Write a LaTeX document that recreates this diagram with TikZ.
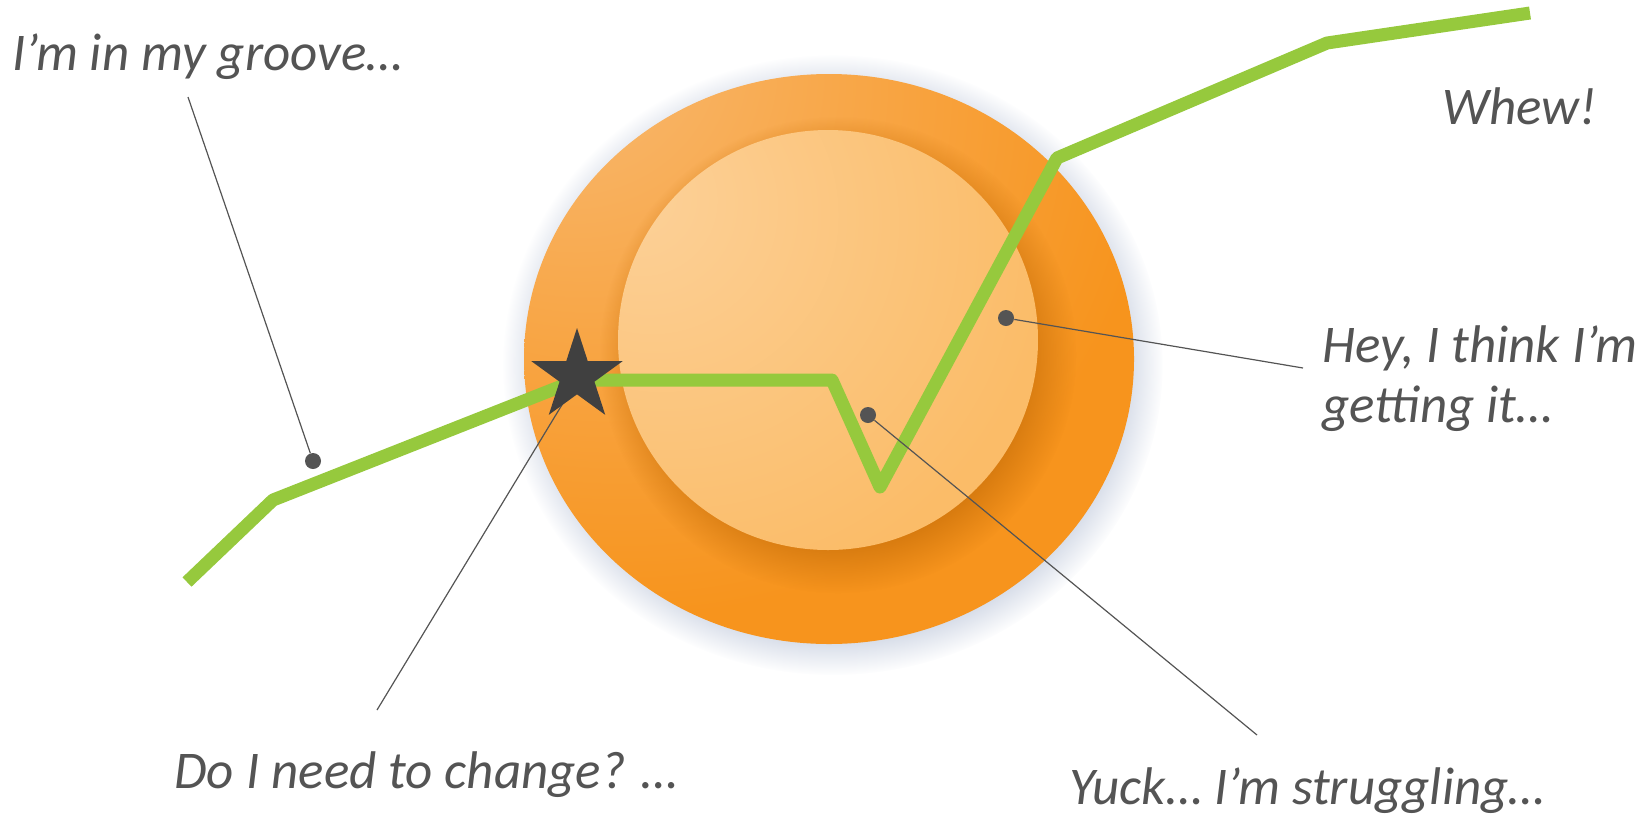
\documentclass[tikz,border=0pt]{standalone}
\usepackage{fontspec}
\setmainfont{Carlito}
\usetikzlibrary{positioning,shapes.geometric,fadings}
\definecolor{ringorange}{HTML}{F7941D}
\definecolor{ringlight}{HTML}{F9BC78}
\definecolor{ringdark}{HTML}{D0750C}
\definecolor{coreorange}{HTML}{FBBC68}
\definecolor{corelight}{HTML}{FCD199}
\definecolor{coreedge}{HTML}{F9B460}
\definecolor{pathgreen}{HTML}{96C93D}
\definecolor{saygray}{HTML}{545454}
\definecolor{starfill}{HTML}{404040}
\definecolor{glowgray}{HTML}{C8D0E0}
\pgfdeclareradialshading{ringshade}{\pgfpoint{-24bp}{30bp}}{color(0bp)=(ringlight);color(18bp)=(ringlight!55!ringorange);color(42bp)=(ringorange);color(120bp)=(ringorange)}
\pgfdeclareradialshading{coreshade}{\pgfpoint{-24bp}{18bp}}{color(0bp)=(corelight);color(42bp)=(coreorange);color(72bp)=(coreedge);color(120bp)=(coreedge)}

\begin{document}
\begin{tikzpicture}[x=0.5pt,y=-0.5pt,
    trail/.style={draw=pathgreen,line width=6.5pt,line join=round},
    leadline/.style={draw=saygray,line width=0.6pt},
    tipdot/.style={circle,fill=saygray,inner sep=0pt,minimum size=8pt},
    saytext/.style={font=\fontsize{26.5}{30}\selectfont\itshape,text=saygray,inner sep=0pt}]
    \useasboundingbox (0,0) rectangle (1652,815);

    % the disc
    \fill[glowgray, path fading=circle with fuzzy edge 15 percent] (833,365) ellipse (165pt and 155pt);
    \shade[shading=ringshade] (829,359) ellipse (152.5pt and 142.5pt);
    \fill[ringdark, opacity=0.8, path fading=circle with fuzzy edge 20 percent] (838,355) circle (119pt);
    \shade[shading=coreshade] (828,340) circle (105pt);

    % the way through it
    \coordinate (t0) at (187,582);
    \coordinate (t1) at (273,500);
    \coordinate (t2) at (577,380);
    \coordinate (t3) at (832,380);
    \coordinate (t4) at (880,487);
    \coordinate (t5) at (1057,158);
    \coordinate (t6) at (1327,43);
    \coordinate (t7) at (1530,13);
    \draw[trail] (t0) -- (t1) -- (t2) -- (t3) -- (t4) -- (t5) -- (t6) -- (t7);

    \node[tipdot] (groovedot) at (313,461) {};
    \node[tipdot] (yuckdot) at (868,415) {};
    \node[tipdot] (heydot) at (1006,318) {};

    \coordinate (grooveend) at (188,97);
    \coordinate (changeend) at (377,710);
    \coordinate (yuckend) at (1257,735);
    \coordinate (heyend) at (1303,368);

    \path[leadline]
      (groovedot) edge (grooveend)
      (t2) edge (changeend)
      (yuckdot) edge (yuckend)
      (heydot) edge (heyend);

    \node[star, star points=5, star point ratio=2.618, minimum size=48pt, inner sep=0pt, fill=starfill] (spark) at (577,376) {};

    \node[saytext, anchor=base west] (groove) at (12,70) {I’m in my groove…};
    \node[saytext, anchor=base west] (whew) at (1442,124) {Whew!};
    \node[saytext, anchor=base west, align=left] (hey) at (1322,422) {Hey, I think I’m\\getting it…};
    \node[saytext, anchor=base west] (change) at (174,788) {Do I need to change? …};
    \node[saytext, anchor=base west] (yuck) at (1069,804) {Yuck… I’m struggling…};
\end{tikzpicture}
\end{document}
